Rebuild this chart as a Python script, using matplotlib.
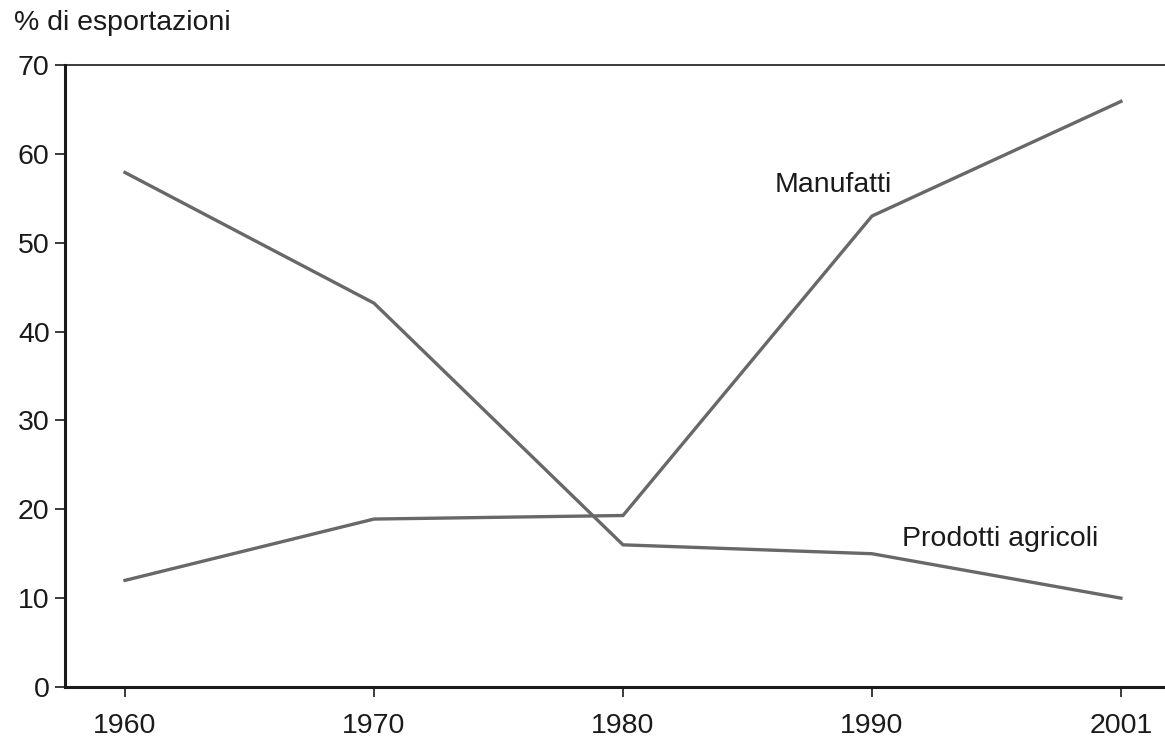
import matplotlib.pyplot as plt

plt.rcParams["font.family"] = ["Liberation Sans", "DejaVu Sans"]

years = ["1960", "1970", "1980", "1990", "2001"]
manufatti = [12, 18.9, 19.3, 53, 65.9]
agricoli = [57.9, 43.2, 16, 15, 10]

fig = plt.figure(figsize=(11.65, 7.41), dpi=100)
ax = fig.add_axes([65 / 1165, 1 - 687 / 741, 1 - 65 / 1165, (687 - 65) / 741])

x = range(len(years))
line_col = "#686868"
ax.plot(x, manufatti, color=line_col, lw=2.4, solid_joinstyle="miter")
ax.plot(x, agricoli, color=line_col, lw=2.4, solid_joinstyle="miter")

ax.set_xlim(-0.241, 4.177)
ax.set_ylim(0, 70)
ax.set_xticks(list(x))
ax.set_xticklabels(years)
ax.set_yticks(range(0, 71, 10))

ax.spines["right"].set_visible(False)
ax.spines["left"].set_linewidth(2.2)
ax.spines["bottom"].set_linewidth(2.2)
ax.spines["top"].set_linewidth(1.2)
for s in ax.spines.values():
    s.set_color("#1a1a1a")

fs = 20.5
ax.tick_params(axis="both", labelsize=fs, colors="#1a1a1a", length=7, width=1.2,
               direction="out")
ax.tick_params(axis="x", pad=12)
ax.tick_params(axis="y", pad=4)

ax.text(2.61, 56.5, "Manufatti", fontsize=fs, color="#1a1a1a", ha="left", va="center")
ax.text(3.12, 16.7, "Prodotti agricoli", fontsize=fs, color="#1a1a1a", ha="left", va="center")

fig.text(14 / 1165, 1 - 23 / 741, "% di esportazioni", fontsize=fs, color="#1a1a1a",
         ha="left", va="center")

fig.savefig("out.png", dpi=100)
